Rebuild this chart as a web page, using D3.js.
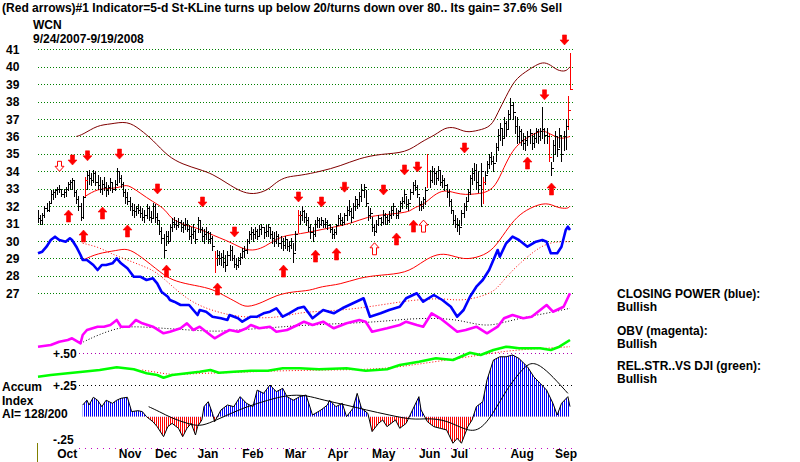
<!DOCTYPE html>
<html>
<head>
<meta charset="utf-8">
<script src="https://cdn.jsdelivr.net/npm/d3@7"></script>
<style>
  body { margin: 0; background: #fff; }
  svg text { font-family: "Liberation Sans", Arial, sans-serif; font-weight: bold; font-size: 12px; fill: #000; }
</style>
</head>
<body>
<div id="chart"></div>
<script>
// ---- daily bars, 9/24/2007 .. 9/19/2008 (251 sessions, index 0..250) ----
const highs = [
  31.8,31.5,31.6,32.0,32.2,32.3,32.9,32.9,33.0,33.1,
  33.2,33.0,33.0,33.1,33.4,33.5,33.6,33.5,32.9,32.6,
  32.2,32.6,33.7,34.0,34.1,33.9,34.1,34.0,33.8,33.7,
  33.5,33.7,33.4,33.2,33.6,33.4,33.5,34.2,34.0,33.8,
  33.4,33.0,32.8,32.5,32.2,32.1,32.0,32.1,32.0,31.9,
  31.8,32.1,32.0,31.7,32.2,32.1,31.6,31.2,30.8,30.4,
  30.6,30.6,31.0,31.3,31.4,31.2,31.3,31.2,31.1,31.3,
  31.2,30.9,30.8,31.0,30.7,31.4,31.2,30.8,30.7,30.8,
  30.6,30.5,30.3,29.4,29.5,29.4,29.3,29.5,29.2,29.4,
  29.8,29.7,29.2,29.0,29.1,29.3,29.6,29.7,30.1,30.6,
  30.8,30.7,30.8,30.7,30.9,31.0,30.8,30.9,31.0,30.8,
  30.6,30.5,30.6,30.4,30.3,30.2,30.3,30.1,30.0,30.2,
  29.9,30.6,31.8,31.7,32.0,31.8,31.6,31.4,31.0,30.8,
  31.2,31.4,31.3,31.4,31.2,31.3,31.2,31.0,30.8,30.7,
  31.0,31.5,31.6,31.4,31.6,32.0,32.35,31.9,32.2,32.6,
  32.4,32.8,33.3,33.3,32.9,32.0,31.9,31.4,31.0,31.2,
  31.5,31.4,31.8,31.6,31.5,31.7,32.0,32.2,31.9,31.8,
  32.3,32.5,32.9,32.6,32.4,33.0,33.4,33.5,33.2,32.5,
  32.3,32.5,33.1,35.0,34.1,34.3,34.2,34.0,34.3,34.0,
  33.8,33.6,33.3,33.0,32.4,31.8,31.5,31.3,31.2,31.8,
  32.2,32.5,33.0,33.8,34.2,34.5,34.4,34.0,34.5,33.7,
  34.0,34.6,35.0,35.1,34.9,35.6,36.4,36.8,36.5,37.1,
  36.9,37.5,38.2,38.0,37.2,37.1,36.6,36.4,36.2,36.0,
  36.3,36.4,36.1,36.2,36.5,36.4,36.5,37.7,36.5,36.5,
  36.2,34.55,35.8,36.3,36.0,36.5,36.1,36.3,37.0,38.3,
  40.8
];
const lows = [
  31.1,31.0,31.0,31.4,31.7,31.7,32.2,32.4,32.5,32.7,
  32.8,32.6,32.5,32.6,32.9,33.0,33.0,32.6,32.2,31.8,
  31.2,31.3,32.5,33.0,33.3,33.2,33.4,33.2,33.0,32.8,
  32.7,32.9,32.6,32.7,32.9,32.8,32.9,33.2,33.4,33.1,
  32.6,32.2,32.1,31.8,31.5,31.4,31.5,31.6,31.4,31.2,
  31.1,31.3,31.2,31.1,31.3,31.1,31.0,30.4,29.9,29.1,
  29.8,29.9,30.0,30.6,30.8,30.7,30.8,30.6,30.5,30.7,
  30.6,30.1,29.9,30.2,29.9,30.5,30.5,30.0,29.9,30.1,
  29.9,29.9,29.5,28.2,28.6,28.7,28.6,28.5,28.3,28.7,
  28.9,28.9,28.5,28.4,28.5,28.7,29.0,29.1,29.3,29.9,
  30.1,30.0,30.2,30.1,30.3,30.4,30.2,30.3,30.3,30.2,
  29.9,29.7,29.9,29.7,29.6,29.5,29.6,29.5,29.4,29.6,
  28.8,29.5,30.5,31.0,31.2,31.1,30.9,30.6,30.2,30.0,
  30.3,30.8,30.8,30.9,30.8,30.8,30.7,30.5,30.2,30.2,
  30.4,30.9,31.0,30.9,31.0,31.2,31.5,31.1,31.3,31.8,
  31.9,32.0,32.3,32.5,32.0,31.2,31.3,30.6,30.35,30.5,
  30.9,30.9,31.0,31.0,31.0,31.1,31.3,31.5,31.3,31.3,
  31.8,31.9,32.2,31.9,31.8,32.4,32.7,32.9,32.5,31.8,
  31.8,31.9,32.1,33.1,33.1,33.4,33.3,33.3,33.5,33.2,
  33.1,32.9,32.5,32.0,31.6,31.0,30.8,30.6,30.4,30.9,
  31.4,31.8,32.3,32.7,33.3,33.5,33.0,32.8,32.0,32.2,
  33.3,33.9,34.2,34.4,34.0,34.6,35.2,35.8,35.5,35.9,
  36.0,36.5,37.0,37.0,36.2,35.6,35.7,35.5,35.3,35.2,
  35.5,35.6,35.3,35.4,35.7,35.6,35.8,35.9,35.6,35.6,
  34.6,33.8,34.6,35.0,34.9,35.4,34.6,35.2,35.3,36.4,
  38.7
];
const closes = [
  31.3,31.2,31.5,31.9,31.8,32.2,32.7,32.8,32.9,33.0,
  33.0,32.7,32.8,33.0,33.3,33.4,33.5,32.8,32.4,32.0,
  31.4,32.5,33.5,33.8,33.6,33.5,33.9,33.4,33.2,33.0,
  33.3,33.1,32.9,33.1,33.4,33.0,33.3,34.0,33.6,33.3,
  32.8,32.5,32.3,32.0,31.8,31.7,31.9,31.8,31.6,31.4,
  31.5,31.9,31.4,31.3,32.0,31.4,31.2,30.6,30.2,29.5,
  30.3,30.0,30.8,31.1,31.0,30.9,31.1,30.8,30.9,31.0,
  30.7,30.3,30.4,30.6,30.1,31.2,30.7,30.3,30.4,30.5,
  30.1,30.2,29.7,29.0,29.2,29.0,29.1,28.8,28.6,29.2,
  29.5,29.0,28.7,28.6,28.9,29.1,29.4,29.5,30.0,30.4,
  30.5,30.4,30.6,30.3,30.7,30.8,30.5,30.6,30.8,30.4,
  30.2,30.0,30.3,29.9,30.0,29.8,30.1,29.7,29.8,30.0,
  29.3,30.4,31.5,31.5,31.7,31.4,31.2,30.8,30.5,30.4,
  31.0,31.2,31.0,31.2,31.0,31.1,30.9,30.7,30.4,30.5,
  30.9,31.3,31.2,31.1,31.5,31.8,31.7,31.4,32.0,32.4,
  32.1,32.6,32.9,33.1,32.2,31.5,31.6,30.8,30.6,31.0,
  31.3,31.1,31.5,31.4,31.2,31.5,31.8,32.0,31.5,31.7,
  32.2,32.3,32.7,32.1,32.2,32.8,33.2,33.1,32.7,32.1,
  32.0,32.4,32.9,34.0,33.5,34.0,33.9,33.6,34.1,33.4,
  33.5,33.2,32.8,32.3,31.8,31.2,31.0,30.9,30.8,31.6,
  32.0,32.3,32.8,33.6,33.9,34.1,33.4,33.2,34.0,33.4,
  33.8,34.4,34.8,34.6,34.5,35.4,36.1,36.5,35.9,36.8,
  36.4,37.3,37.8,37.4,36.6,36.0,36.3,35.8,35.6,35.8,
  36.0,36.2,35.6,35.9,36.3,36.0,36.3,36.4,36.1,36.0,
  34.8,34.2,35.5,36.0,35.3,36.1,35.0,36.0,36.6,37.5,
  38.7
];
const redBars = [22, 83, 122, 183, 209, 240, 249, 250];

// ---- 21-day average and its bands, read as [session, price] ----
const maLine = [[22,32.55],[28,33.0],[34,33.0],[39,33.1],[42,33.27],[48,32.75],[54,32.25],[59,31.9],[62,31.4],[64,31.2],[69,30.9],[75,30.75],[80,30.45],[85,30.2],[91,29.9],[97,29.5],[102,29.45],[107,29.7],[111,30.05],[117,30.35],[123,30.4],[131,30.6],[139,30.8],[147,31.0],[155,31.4],[162,31.5],[170,31.6],[175,31.7],[177,31.95],[181,32.05],[186,32.65],[191,32.95],[196,32.75],[201,32.65],[205,32.7],[210,32.75],[215,33.1],[219,34.25],[223,35.2],[227,35.7],[232,36.1],[237,36.35],[239,36.25],[243,36.0],[246,35.85],[250,36.0]];
const upperBand = [[18,36.0],[21,36.1],[28,36.65],[34,36.7],[42,36.9],[48,36.4],[54,35.8],[61,34.85],[68,34.4],[76,34.1],[82,33.85],[89,33.3],[95,32.85],[101,32.65],[108,32.9],[112,33.4],[117,33.7],[123,33.75],[133,34.0],[142,34.3],[151,34.75],[161,35.0],[173,35.05],[180,35.7],[187,36.1],[191,36.5],[196,36.55],[201,36.2],[207,36.35],[213,36.55],[216,37.35],[220,38.3],[224,39.25],[229,39.7],[234,40.1],[238,40.3],[242,40.0],[244,39.8],[248,39.7],[250,40.0]];
const lowerBand = [[21,28.9],[28,29.3],[37,29.45],[42,29.6],[48,29.15],[58,28.15],[63,27.75],[71,27.5],[81,27.3],[87,26.9],[94,26.45],[98,26.15],[106,26.5],[112,26.9],[120,27.1],[128,27.15],[133,27.4],[142,27.5],[151,27.9],[161,28.05],[173,28.15],[180,28.75],[186,29.2],[192,29.3],[200,28.9],[208,29.1],[214,29.5],[220,30.6],[225,31.4],[231,31.9],[239,32.25],[244,31.9],[249,31.85],[250,32.0]];

// ---- signals: [session, price at arrow tip, hollow?] ----
const sellArrows = [[10,34.0,true],[16,34.36],[23,34.6],[38,34.7],[56,32.7],[77,31.95],[92,30.23],[122,32.24],[133,31.95],[144,32.8],[162,32.64],[172,33.79],[178,33.96],[200,35.05],[238,38.1],[247,41.25]];
const buyArrows = [[14,31.78],[21,30.63],[30,31.95],[42,30.92],[60,28.62],[84,27.59],[115,28.62],[130,29.48],[140,29.6],[158,29.9,true],[168,30.46],[176,31.2],[181,31.2,true],[230,34.82],[241,33.33]];

// ---- indicators (0..100 relative units), read as [session, value] ----
const closingPower = [[0,71.7],[2,73.3],[4,78.3],[6,85],[8,88.3],[10,85],[13,83.3],[15,86.7],[16,85],[18,78.3],[20,70],[21,65],[23,65],[26,60],[28,55],[30,60],[32,60],[35,61.7],[37,66.7],[39,61.7],[42,56.7],[45,48.3],[48,48.3],[51,45],[54,46.7],[56,41.7],[58,33.3],[61,28.3],[62,25],[64,23.3],[67,20],[71,20],[75,10],[76,15],[79,13.3],[82,8.3],[86,6.7],[89,5],[90,10],[94,6.7],[96,3.3],[100,8.3],[103,8.3],[106,11.7],[109,13.3],[112,16.7],[115,8.3],[118,11.7],[122,16.7],[125,18.3],[129,6.7],[134,15],[139,11.7],[143,16.7],[148,21.7],[153,26.7],[156,8.3],[161,11.7],[165,15],[170,18.3],[173,26.7],[178,31.7],[181,23.3],[186,30],[190,25],[194,18.3],[197,8.3],[200,15],[203,28.3],[206,38.3],[209,45],[212,55],[216,75],[217,68.3],[220,81.7],[223,88.3],[226,85],[230,78.3],[234,83.3],[237,85],[239,83.3],[241,71.7],[244,71.7],[246,78.3],[248,95],[249,98.3],[250,95]];
const closingPowerAvg = [[21,81.7],[28,78.3],[34,71.7],[40,66.7],[48,60],[54,55],[59,46.7],[65,35],[71,25],[77,18.3],[84,13.3],[90,10],[96,8.3],[106,6.7],[114,8.3],[122,11.7],[128,13.3],[145,15],[161,20],[176,25],[189,26.7],[195,25],[201,25],[208,28.3],[214,33.3],[217,40],[223,55],[230,68.3],[236,78.3],[242,83.3],[250,83.3]];
const obv = [[0,3.3],[6,5],[10,8.3],[14,10],[16,11.7],[20,6.7],[21,15],[23,20],[28,23.3],[31,23.3],[34,25],[37,30],[39,23.3],[43,23.3],[46,30],[49,26.7],[54,23.3],[59,16.7],[62,18.3],[67,21.7],[70,26.7],[73,20],[76,23.3],[79,18.3],[83,11.7],[87,16.7],[90,20],[94,18.3],[98,21.7],[100,25],[104,21.7],[109,23.3],[112,18.3],[117,20],[122,25],[125,28.3],[129,25],[134,28.3],[139,21.7],[145,26.7],[151,30],[154,28.3],[157,18.3],[164,21.7],[170,25],[173,28.3],[178,25],[181,23.3],[185,36.7],[189,31.7],[192,26.7],[197,18.3],[201,20],[206,23.3],[211,16.7],[216,23.3],[219,31.7],[223,35],[228,31.7],[232,33.3],[239,45],[242,38.3],[247,43.3],[250,56.7]];
const obvAvg = [[20,6.7],[28,15],[39,23.3],[48,23.3],[59,21.7],[71,20],[84,18.3],[93,20],[106,21.7],[115,23.3],[127,25],[145,26.7],[161,28.3],[176,31.7],[192,31.7],[201,28.3],[211,23.3],[220,28.3],[230,33.3],[239,36.7],[250,41.7]];
const relStrength = [[0,3.3],[6,5],[14,6.7],[21,8.3],[29,10],[37,12.7],[45,10.7],[51,6.7],[56,5],[59,2.3],[63,5],[70,6.7],[76,8.3],[81,10],[85,7.3],[92,8.3],[100,9.3],[108,9.3],[115,11.7],[123,11.7],[132,10.7],[145,11.7],[154,9.3],[164,10.7],[170,15],[179,18.3],[187,21.7],[195,20],[203,27.3],[208,25],[214,30],[220,33.3],[226,31.7],[236,31.7],[241,30],[245,33.3],[250,40]];
const relStrengthAvg = [[49,10],[57,7.3],[63,5],[76,6.7],[89,7.3],[101,8.3],[115,9.3],[137,10],[161,10.7],[176,15],[192,20],[208,25],[223,30],[239,31.7],[250,33.3]];

// ---- accumulation index, read as [session, value] ----
const accumIndex = [[21,0.092],[23,0.13],[24,0.092],[26,0.153],[28,0.13],[30,0.079],[32,0.13],[35,0.105],[37,0.13],[39,0.145],[42,0.153],[44,0.04],[47,0.047],[49,0.04],[51,0],[54,-0.04],[56,-0.079],[59,-0.158],[61,-0.079],[63,-0.053],[66,-0.092],[68,-0.158],[70,-0.092],[72,-0.053],[74,-0.145],[75,-0.079],[77,-0.026],[78,0.079],[80,0.118],[82,0.026],[83,-0.04],[86,0.053],[89,0.092],[92,0.079],[95,0.158],[98,0.105],[101,0.079],[103,0.21],[106,0.184],[109,0.25],[112,0.197],[115,0.224],[117,0.158],[120,0.13],[123,0.158],[126,0.171],[129,0.013],[133,0.053],[136,0.092],[137,0.13],[140,0.079],[143,0.105],[145,0],[148,0.066],[150,0.184],[152,0.066],[155,0.026],[157,-0.118],[160,-0.053],[162,-0.026],[164,-0.079],[168,-0.026],[170,-0.092],[173,-0.053],[176,0.053],[179,0.158],[180,0.053],[183,-0.04],[186,-0.079],[189,-0.092],[192,-0.105],[195,-0.21],[197,-0.171],[199,-0.21],[202,-0.079],[204,-0.026],[206,0.079],[209,0.118],[211,0.29],[214,0.447],[217,0.473],[220,0.473],[223,0.487],[226,0.46],[230,0.394],[233,0.315],[236,0.263],[239,0.21],[242,0.105],[244,0.013],[246,0.105],[249,0.158],[250,0.079]];
const accumIndexAvg = [[52,0.079],[57,0.04],[63,-0.013],[70,-0.053],[76,-0.079],[82,-0.04],[89,0.013],[98,0.079],[108,0.13],[117,0.171],[126,0.171],[134,0.13],[145,0.092],[154,0.053],[165,0.013],[176,-0.026],[183,-0.013],[192,-0.026],[202,-0.118],[208,-0.105],[214,0.026],[220,0.21],[226,0.342],[231,0.434],[236,0.408],[242,0.315],[249,0.184]];
const accumLevels = [["+.50", 0.5, "#b000b0"], ["+.25", 0.25, "#000000"], ["-.25", -0.25, "#c000c0"]];

// ---- axis labels ----
const priceTicks = [41, 40, 39, 38, 37, 36, 35, 34, 33, 32, 31, 30, 29, 28, 27];
const monthTicks = [["Oct",9],["Nov",38],["Dec",55],["Jan",75],["Feb",96],["Mar",116],["Apr",136],["May",157],["Jun",179],["Jul",194],["Aug",222],["Sep",243]];

const titleText = "(Red arrows)#1 Indicator=5-d St-KLine turns up below 20/turns down over 80.. Its gain= 37.6% Sell";
const statusLines = [
  ["CLOSING POWER (blue):", "Bullish"],
  ["OBV (magenta):", "Bullish"],
  ["REL.STR..VS DJI (green):", "Bullish"]
];

class TigerChart {
  constructor(parentElement) {
    this.parentElement = parentElement;
    this.initVis();
  }

  initVis() {
    let vis = this;
    vis.width = 800;
    vis.height = 462;

    vis.svg = d3.select("#" + vis.parentElement)
      .append("svg")
      .attr("width", vis.width)
      .attr("height", vis.height);

    // scales
    vis.x = d3.scaleLinear().domain([0, 250]).range([38, 570]);
    vis.yPrice = d3.scaleLinear().domain([27, 41]).range([293.3, 49.3]);
    vis.yCP = d3.scaleLinear().domain([0, 100]).range([325, 225]);
    vis.yOBV = d3.scaleLinear().domain([0, 100]).range([350, 250]);
    vis.yRS = d3.scaleLinear().domain([0, 100]).range([380, 280]);
    vis.yAI = d3.scaleLinear().domain([-0.25, 0.25]).range([448.3, 385]);

    const px = v => Math.round(v) + 0.5;
    const gridX1 = vis.x(0), gridX2 = vis.x(250) + 3;

    // price grid + labels
    vis.svg.append("g").selectAll("line")
      .data(priceTicks).enter().append("line")
      .attr("x1", gridX1).attr("x2", gridX2)
      .attr("y1", d => px(vis.yPrice(d))).attr("y2", d => px(vis.yPrice(d)))
      .attr("stroke", "#008000").attr("stroke-dasharray", "1,2")
      .attr("shape-rendering", "crispEdges");
    vis.svg.append("g").selectAll("text")
      .data(priceTicks).enter().append("text")
      .attr("x", 6).attr("y", d => vis.yPrice(d) + 4.5)
      .text(d => d);

    // accumulation panel reference levels
    const aiStart = vis.x(19.5);
    accumLevels.forEach(([label, v, col]) => {
      vis.svg.append("line")
        .attr("x1", aiStart).attr("x2", gridX2)
        .attr("y1", px(vis.yAI(v))).attr("y2", px(vis.yAI(v)))
        .attr("stroke", col).attr("stroke-dasharray", v < 0 ? "1,5" : "1,3")
        .attr("shape-rendering", "crispEdges");
      vis.svg.append("text")
        .attr("x", 53).attr("y", vis.yAI(v) + (v < 0 ? -4.5 : 4.5))
        .text(label);
    });

    const lineOf = (yScale, curve) => d3.line()
      .x(d => vis.x(d[0])).y(d => yScale(d[1]))
      .curve(curve || d3.curveLinear);

    // 21-day MA and bands
    vis.svg.append("path").datum(upperBand)
      .attr("d", lineOf(vis.yPrice, d3.curveBasis))
      .attr("fill", "none").attr("stroke", "#800000").attr("stroke-width", 1);
    vis.svg.append("path").datum(lowerBand)
      .attr("d", lineOf(vis.yPrice, d3.curveBasis))
      .attr("fill", "none").attr("stroke", "#ff0000").attr("stroke-width", 1);
    vis.svg.append("path").datum(maLine)
      .attr("d", lineOf(vis.yPrice, d3.curveBasis))
      .attr("fill", "none").attr("stroke", "#ff0000").attr("stroke-width", 1);

    // OHLC bars
    const bars = d3.range(highs.length);
    const barColor = i => redBars.includes(i) ? "#ff0000" : "#000000";
    vis.svg.append("g").selectAll("line")
      .data(bars).enter().append("line")
      .attr("x1", i => px(vis.x(i))).attr("x2", i => px(vis.x(i)))
      .attr("y1", i => Math.round(vis.yPrice(highs[i])))
      .attr("y2", i => Math.round(vis.yPrice(lows[i])) + 1)
      .attr("stroke", barColor)
      .attr("shape-rendering", "crispEdges");
    vis.svg.append("g").selectAll("line")
      .data(bars).enter().append("line")
      .attr("x1", i => Math.round(vis.x(i)) + 1).attr("x2", i => Math.round(vis.x(i)) + 3)
      .attr("y1", i => px(vis.yPrice(closes[i]))).attr("y2", i => px(vis.yPrice(closes[i])))
      .attr("stroke", barColor)
      .attr("shape-rendering", "crispEdges");

    // indicator averages (dotted)
    const dotted = (data, yScale, col) => vis.svg.append("path").datum(data)
      .attr("d", lineOf(yScale, d3.curveBasis))
      .attr("fill", "none").attr("stroke", col)
      .attr("stroke-width", 1).attr("stroke-dasharray", "1,2");
    dotted(closingPowerAvg, vis.yCP, "#ff0000");
    dotted(obvAvg, vis.yOBV, "#000000");
    dotted(relStrengthAvg, vis.yRS, "#ff0000");

    // indicator lines
    const thick = (data, yScale, col) => vis.svg.append("path").datum(data)
      .attr("d", lineOf(yScale))
      .attr("fill", "none").attr("stroke", col)
      .attr("stroke-width", 2.6).attr("stroke-linejoin", "round");
    thick(obv, vis.yOBV, "#ff00ff");
    thick(relStrength, vis.yRS, "#00ff00");
    thick(closingPower, vis.yCP, "#0000ff");

    // accumulation index histogram (striped fill like daily bars)
    const defs = vis.svg.append("defs");
    [["stripesBlue", "#0000ff"], ["stripesRed", "#ff0000"]].forEach(([id, col]) => {
      defs.append("pattern").attr("id", id)
        .attr("patternUnits", "userSpaceOnUse")
        .attr("width", 2).attr("height", 4)
        .append("rect").attr("width", 1).attr("height", 4).attr("fill", col);
    });
    const zeroY = vis.yAI(0);
    defs.append("clipPath").attr("id", "aboveZero")
      .append("rect").attr("x", 0).attr("y", 0).attr("width", vis.width).attr("height", zeroY);
    defs.append("clipPath").attr("id", "belowZero")
      .append("rect").attr("x", 0).attr("y", zeroY).attr("width", vis.width).attr("height", vis.height - zeroY);

    const aiArea = d3.area()
      .x(d => vis.x(d[0])).y0(zeroY).y1(d => vis.yAI(d[1]));
    vis.svg.append("path").datum(accumIndex)
      .attr("d", aiArea).attr("fill", "url(#stripesBlue)")
      .attr("clip-path", "url(#aboveZero)");
    vis.svg.append("path").datum(accumIndex)
      .attr("d", aiArea).attr("fill", "url(#stripesRed)")
      .attr("clip-path", "url(#belowZero)");
    vis.svg.append("path").datum(accumIndex)
      .attr("d", lineOf(vis.yAI))
      .attr("fill", "none").attr("stroke", "#000").attr("stroke-width", 1);
    vis.svg.append("path").datum(accumIndexAvg)
      .attr("d", lineOf(vis.yAI, d3.curveBasis))
      .attr("fill", "none").attr("stroke", "#000").attr("stroke-width", 1);

    // buy / sell arrows
    function arrowPath(cx, tip, dir, len) {
      // dir = 1 points up (tip on top), -1 points down
      const hw = 4.5, sw = 2, hh = 5;
      const p = [[0, 0], [hw, hh], [sw, hh], [sw, len], [-sw, len], [-sw, hh], [-hw, hh]];
      return "M" + p.map(q => (cx + q[0]) + "," + (tip + dir * q[1])).join("L") + "Z";
    }
    const drawArrows = (data, dir, len) => vis.svg.append("g").selectAll("path")
      .data(data).enter().append("path")
      .attr("d", d => arrowPath(Math.round(vis.x(d[0])) + 0.5, vis.yPrice(d[1]), dir, len))
      .attr("fill", d => d[2] ? "#fff" : "#ff0000")
      .attr("stroke", "#ff0000")
      .attr("stroke-width", d => d[2] ? 1 : 0.6);
    drawArrows(sellArrows, -1, 10);
    drawArrows(buyArrows, 1, 12);

    // month labels
    vis.svg.append("g").selectAll("text")
      .data(monthTicks).enter().append("text")
      .attr("x", d => vis.x(d[1])).attr("y", 458)
      .text(d => d[0]);
    vis.svg.append("line")
      .attr("x1", px(vis.x(0)) - 1).attr("x2", px(vis.x(0)) - 1)
      .attr("y1", 443).attr("y2", 462)
      .attr("stroke", "#808000");

    // titles
    vis.svg.append("text").attr("x", 2).attr("y", 12)
      .attr("textLength", 560).attr("lengthAdjust", "spacingAndGlyphs")
      .text(titleText);
    vis.svg.append("text").attr("x", 33).attr("y", 28.5).text("WCN");
    vis.svg.append("text").attr("x", 33).attr("y", 42.5).text("9/24/2007-9/19/2008");

    // accumulation label
    ["Accum", "Index", "AI= 128/200"].forEach((t, i) => {
      vis.svg.append("text").attr("x", 2).attr("y", 391 + i * 13.5).text(t);
    });

    // status block on the right
    const statusY = [298, 335, 370];
    statusLines.forEach((s, i) => {
      vis.svg.append("text").attr("x", 617).attr("y", statusY[i]).text(s[0]);
      vis.svg.append("text").attr("x", 617).attr("y", statusY[i] + 13).text(s[1]);
    });
  }
}

new TigerChart("chart");
</script>
</body>
</html>
